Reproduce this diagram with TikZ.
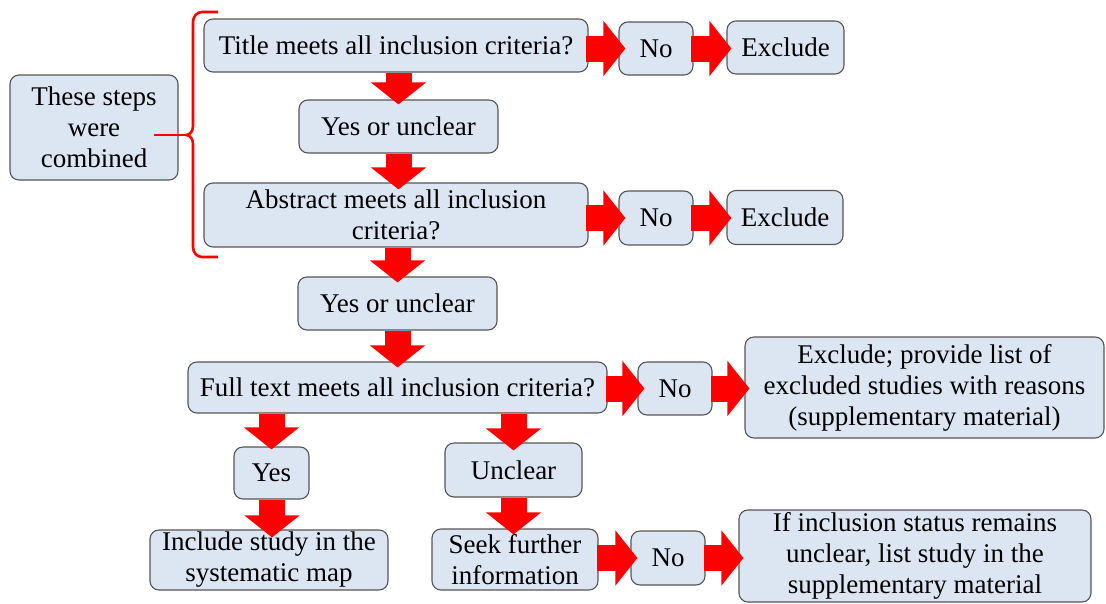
\documentclass[tikz,border=0pt]{standalone}
\usepackage{fontspec}
\setmainfont{Liberation Serif}
\usetikzlibrary{arrows.meta}
\definecolor{boxfill}{RGB}{220,230,242}
\definecolor{boxline}{RGB}{85,85,85}
\definecolor{arrred}{RGB}{255,0,0}
\tikzset{
  stepbox/.style={draw=boxline, line width=1.1pt, fill=boxfill, rounded corners=9pt,
    inner sep=0pt, align=center, font=\fontsize{27}{31}\selectfont},
  bigarrow/.style={draw=arrred, line width=26pt, -{Triangle[length=22pt,width=54pt]}, arrred},
  bracestyle/.style={draw=arrred, line width=2.6pt, line join=round}
}
\begin{document}
\begin{tikzpicture}[x=1pt,y=1pt]
\useasboundingbox (0,0) rectangle (1106,-603);
% boxes
\node[stepbox, minimum width=168pt, minimum height=105pt] (steps) at (94,-127.5) {These steps\\were\\combined};
\node[stepbox, minimum width=384pt, minimum height=53pt] (title) at (396,-45.5) {Title meets all inclusion criteria?};
\node[stepbox, minimum width=74pt, minimum height=53pt] (no1) at (656,-48.5) {No};
\node[stepbox, minimum width=117pt, minimum height=53pt] (ex1) at (785.5,-47.5) {Exclude};
\node[stepbox, minimum width=199pt, minimum height=53pt] (yu1) at (398.5,-126.5) {Yes or unclear};
\node[stepbox, minimum width=384pt, minimum height=64pt] (abs) at (396,-215) {Abstract meets all inclusion\\criteria?};
\node[stepbox, minimum width=74pt, minimum height=54pt] (no2) at (656,-218) {No};
\node[stepbox, minimum width=116pt, minimum height=54pt] (ex2) at (785,-217.5) {Exclude};
\node[stepbox, minimum width=199pt, minimum height=53pt] (yu2) at (397.5,-303.5) {Yes or unclear};
\node[stepbox, minimum width=419pt, minimum height=51pt] (full) at (397.5,-387.5) {Full text meets all inclusion criteria?};
\node[stepbox, minimum width=74pt, minimum height=53pt] (no3) at (675,-388.5) {No};
\node[stepbox, minimum width=359pt, minimum height=101pt] (ex3) at (924.5,-387.5) {Exclude; provide list of\\excluded studies with reasons\\(supplementary material)};
\node[stepbox, minimum width=75pt, minimum height=52pt] (yes) at (271.5,-473) {Yes};
\node[stepbox, minimum width=137pt, minimum height=54pt] (unc) at (513.5,-470) {Unclear};
\node[stepbox, minimum width=238pt, minimum height=60pt] (incl) at (269,-560) {Include study in the\\systematic map};
\node[stepbox, minimum width=166pt, minimum height=61pt] (seek) at (515,-559.5) {Seek further\\information};
\node[stepbox, minimum width=74pt, minimum height=54pt] (no4) at (668,-558) {No};
\node[stepbox, minimum width=352pt, minimum height=92pt] (ifinc) at (915,-556) {If inclusion status remains\\unclear, list study in the\\supplementary material};
% horizontal arrows
\draw[bigarrow] ([xshift=-3pt]title.east |- no1.west) -- ([xshift=7pt]no1.west);
\draw[bigarrow] ([xshift=-3pt]no1.east) -- ([xshift=5pt]ex1.west |- no1.east);
\draw[bigarrow] ([xshift=-3pt]abs.east |- no2.west) -- ([xshift=7pt]no2.west);
\draw[bigarrow] ([xshift=-3pt]no2.east) -- ([xshift=5pt]ex2.west |- no2.east);
\draw[bigarrow] ([xshift=-2pt]full.east |- no3.west) -- ([xshift=7pt]no3.west);
\draw[bigarrow] ([xshift=-2pt]no3.east) -- ([xshift=5pt]ex3.west |- no3.east);
\draw[bigarrow] ([xshift=-2pt]seek.east |- no4.west) -- ([xshift=7pt]no4.west);
\draw[bigarrow] ([xshift=-2pt]no4.east) -- ([xshift=5pt]ifinc.west |- no4.east);
% vertical arrows
\draw[bigarrow] (yu1.north |- title.south) -- ([yshift=-5pt]yu1.north);
\draw[bigarrow] (yu1.south) -- ([yshift=-7pt]abs.north -| yu1.south);
\draw[bigarrow] (yu2.north |- abs.south) -- ([yshift=-6pt]yu2.north);
\draw[bigarrow] (yu2.south) -- ([yshift=-6pt]full.north -| yu2.south);
\draw[bigarrow] (yes.north |- full.south) -- ([yshift=-3pt]yes.north);
\draw[bigarrow] (unc.north |- full.south) -- ([yshift=-8pt]unc.north);
\draw[bigarrow] ([xshift=0.5pt]yes.south) -- ([yshift=-8pt,xshift=0.5pt]incl.north -| yes.south);
\draw[bigarrow] (unc.south) -- ([yshift=-6pt]seek.north -| unc.south);
% brace
\coordinate (bt) at (186,-135);
\draw[bracestyle] (218,-12) -- (202,-12) to[out=180,in=90] (193,-22) -- (193,-126)
  to[out=-90,in=0] (bt) to[out=0,in=90] (193,-144) -- (193,-247)
  to[out=-90,in=180] (202,-257) -- (218,-257);
\coordinate (bs) at ([xshift=-25pt]steps.east |- bt);
\draw[bracestyle] (bs) -- (bt);
\end{tikzpicture}
\end{document}
